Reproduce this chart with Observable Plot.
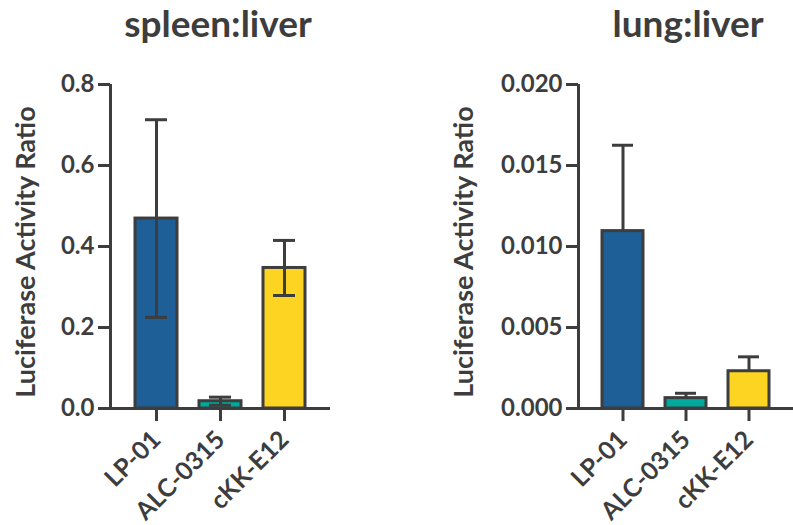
<!DOCTYPE html>
<html>
<head>
<meta charset="utf-8">
<script src="https://cdn.jsdelivr.net/npm/d3@7"></script>
<script src="https://cdn.jsdelivr.net/npm/@observablehq/plot@0.6"></script>
<style>
  body { margin: 0; background: #fff; }
  #wrap { position: relative; width: 793px; height: 525px; font-family: Lato, sans-serif; color: #3d3d3d; }
  .title { position: absolute; top: 0px; font-size: 37px; font-weight: bold; text-align: center; }
  .ylab { position: absolute; font-size: 27px; font-weight: bold; white-space: nowrap; transform: translate(-50%, -50%) rotate(-90deg); }
  .panel { position: absolute; top: 60px; }
</style>
</head>
<body>
<div id="wrap">
  <div class="title" style="left:68px;width:300px;">spleen:liver</div>
  <div class="title" style="left:538px;width:300px;">lung:liver</div>
  <div class="ylab" style="left:24px;top:252px;">Luciferase Activity Ratio</div>
  <div class="ylab" style="left:462px;top:252px;">Luciferase Activity Ratio</div>
  <div class="panel" id="p1" style="left:0px;"></div>
  <div class="panel" id="p2" style="left:400px;"></div>
</div>
<script>
const categories = ["LP-01", "ALC-0315", "cKK-E12"];
const colors = ["#1d5f96", "#00a99d", "#fdd422"];
const spleenMean = [0.469, 0.018, 0.347];
const spleenErr = [0.244, 0.010, 0.068];
const lungMean = [0.01095, 0.00064, 0.0023];
const lungErr = [0.0053, 0.0003, 0.00089];
const spleenTicks = [0, 0.2, 0.4, 0.6, 0.8];
const lungTicks = [0, 0.005, 0.010, 0.015, 0.020];

const ink = "#3d3d3d";

function panel({mean, err, ticks, fmt, width, marginLeft, marginRight, both}) {
  const data = categories.map((c, i) => ({
    cat: c, v: mean[i],
    lo: both ? mean[i] - err[i] : mean[i],
    hi: mean[i] + err[i]
  }));
  const frameW = width - marginLeft - marginRight;
  const yMin = ticks[0], yMax = ticks[ticks.length - 1];
  return Plot.plot({
    width, height: 465,
    marginTop: 24, marginBottom: 117, marginLeft, marginRight,
    style: {fontFamily: "Lato, sans-serif", fontWeight: "bold", color: ink, fontSize: "24px", background: "transparent"},
    x: {type: "band", domain: categories, paddingInner: 0.35, paddingOuter: 0.37, label: null},
    y: {domain: [yMin, yMax], label: null},
    color: {domain: categories, range: colors},
    marks: [
      Plot.barY(data, {x: "cat", y: "v", fill: "cat", stroke: ink, strokeWidth: 3}),
      Plot.ruleX(data, {x: "cat", y1: "lo", y2: "hi", stroke: ink, strokeWidth: 3}),
      Plot.tickY(data, {x: "cat", y: "hi", stroke: ink, strokeWidth: 3, insetLeft: 10, insetRight: 10}),
      ...(both ? [Plot.tickY(data, {x: "cat", y: "lo", stroke: ink, strokeWidth: 3, insetLeft: 10, insetRight: 10})] : []),
      Plot.ruleY([yMin], {stroke: ink, strokeWidth: 3}),
      Plot.axisY({ticks, tickFormat: fmt, tickSize: 12, tickPadding: 4, strokeWidth: 3, stroke: ink, fontSize: 24, label: null}),
      Plot.ruleX([yMax], {x: null, y1: yMin, y2: (d) => d, dx: -frameW / 2, stroke: ink, strokeWidth: 3}),
      Plot.axisX({tickSize: 13, tickPadding: 14, tickRotate: -45, strokeWidth: 3, stroke: ink, fontSize: 25, label: null})
    ]
  });
}

document.getElementById("p1").append(panel({
  mean: spleenMean, err: spleenErr, ticks: spleenTicks, fmt: d3.format(".1f"),
  width: 400, marginLeft: 110, marginRight: 70, both: true
}));
document.getElementById("p2").append(panel({
  mean: lungMean, err: lungErr, ticks: lungTicks, fmt: d3.format(".3f"),
  width: 393, marginLeft: 178, marginRight: 0, both: false
}));
</script>
</body>
</html>
